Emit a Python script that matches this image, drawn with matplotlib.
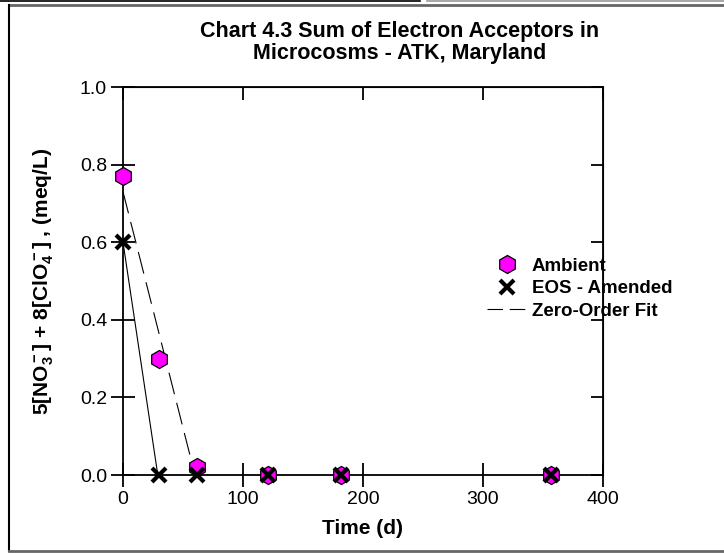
"""
Sum of electron acceptors in microcosms - ATK, Maryland
"""
import numpy as np
import matplotlib
matplotlib.use("Agg")
import matplotlib.pyplot as plt
from matplotlib.lines import Line2D

plt.rcParams['font.family'] = ['Liberation Sans', 'DejaVu Sans']
plt.rcParams['mathtext.fontset'] = 'custom'
plt.rcParams['mathtext.bf'] = 'Liberation Sans:bold'
plt.rcParams['mathtext.rm'] = 'Liberation Sans:bold'
plt.rcParams['mathtext.default'] = 'bf'

# sampling days
days = [0, 30, 62, 121, 182, 357]
# ambient microcosms (meq/L)
ambient = [0.77, 0.30, 0.02, 0.0, 0.0, 0.0]
# EOS amended microcosms (meq/L)
eos = [0.60, 0.0, 0.0, 0.0, 0.0, 0.0]
# zero-order fits: end points
fit_ambient_x = [0, 60]
fit_ambient_y = [0.73, 0.0]
fit_eos_x = [0, 29]
fit_eos_y = [0.60, 0.0]

xticks = [0, 100, 200, 300, 400]
yticks = [0.0, 0.2, 0.4, 0.6, 0.8, 1.0]
labels = ['Ambient', 'EOS - Amended', 'Zero-Order Fit']

MAGENTA = '#ff00ff'
DASH = (0, (20, 8))

fig = plt.figure(figsize=(7.24, 5.53), dpi=100)
ax = fig.add_axes([123 / 724, 1 - 475 / 553, 480 / 724, 388 / 553])

ax.plot(fit_ambient_x, fit_ambient_y, color='black', lw=0.8,
        linestyle=DASH, zorder=2)
ax.plot(fit_eos_x, fit_eos_y, color='black', lw=0.8, zorder=2)
ax.plot(days, ambient, linestyle='none', marker='h', ms=13,
        mfc=MAGENTA, mec='black', mew=0.9, zorder=3, clip_on=False)
ax.plot(days, eos, linestyle='none', marker='x', ms=10, color='black',
        mew=3, zorder=4, clip_on=False)

ax.set_xlim(0, 400)
ax.set_ylim(0, 1.0)
ax.set_xticks(xticks)
ax.set_yticks(yticks)
ax.set_yticklabels(['%.1f' % v for v in yticks])
for s in ax.spines.values():
    s.set_linewidth(1.3)
ax.tick_params(direction='inout', length=17, width=1.3, labelsize=14,
               pad=3)

# inward ticks on top and right
top = ax.secondary_xaxis('top')
top.set_xticks(xticks)
top.tick_params(direction='in', length=9, width=1.3, labeltop=False)
right = ax.secondary_yaxis('right')
right.set_yticks(yticks)
right.tick_params(direction='in', length=9, width=1.3, labelright=False)

ax.set_xlabel('Time (d)', fontsize=15, fontweight='bold', labelpad=8)
ax.set_ylabel(r'5[NO$_3^-$] + 8[ClO$_4^-$] , (meq/L)', fontsize=15,
              fontweight='bold', labelpad=17)

fig.text(0.552, 1 - 31 / 553, 'Chart 4.3 Sum of Electron Acceptors in',
         ha='center', va='center', fontsize=15.5, fontweight='bold')
fig.text(0.552, 1 - 54 / 553, 'Microcosms - ATK, Maryland',
         ha='center', va='center', fontsize=15.5, fontweight='bold')

handles = [
    Line2D([], [], linestyle='none', marker='h', ms=13, mfc=MAGENTA,
           mec='black', mew=0.9),
    Line2D([], [], linestyle='none', marker='x', ms=10, color='black',
           mew=3),
    Line2D([], [], color='black', lw=0.8, linestyle=(0, (14, 6))),
]
ax.legend(handles, labels, frameon=False,
          prop={'weight': 'bold', 'size': 13.5},
          loc='upper left', bbox_to_anchor=(0.758, 0.56),
          handlelength=2.13, handletextpad=0.27, labelspacing=0.29,
          borderpad=0, borderaxespad=0)

# page border of the scanned report
fx = fig.transFigure
fig.add_artist(Line2D([0, 0.58], [0.999, 0.999], color='black', lw=1.2,
                      transform=fx))
fig.add_artist(Line2D([0.59, 1], [0.999, 0.999], color='#9a9a9a', lw=1.2,
                      transform=fx))
fig.add_artist(Line2D([9 / 724, 1], [1 - 5 / 553, 1 - 5 / 553],
                      color='#666666', lw=2, transform=fx))
fig.add_artist(Line2D([9 / 724, 9 / 724], [1 - 551 / 553, 1 - 5 / 553],
                      color='black', lw=1.5, transform=fx))
fig.add_artist(Line2D([9 / 724, 1], [1 - 551 / 553, 1 - 551 / 553],
                      color='#666666', lw=2, transform=fx))

fig.savefig('out.png', dpi=100)
